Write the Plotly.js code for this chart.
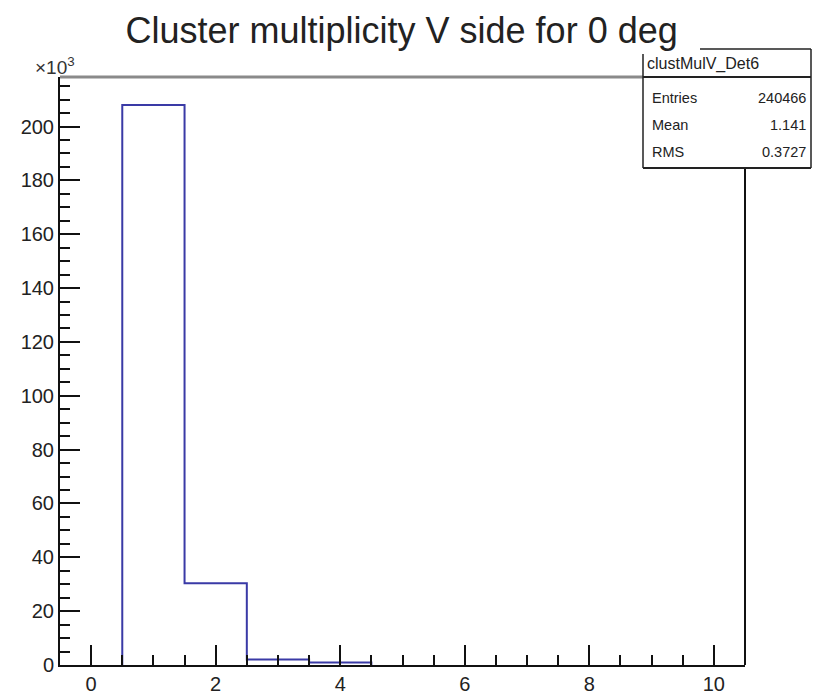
<!DOCTYPE html>
<html>
<head>
<meta charset="utf-8">
<script src="https://cdn.plot.ly/plotly-3.0.1.min.js"></script>
<style>html,body{margin:0;padding:0;background:#fff;}#plot{width:813px;height:694px;}</style>
</head>
<body>
<div id="plot"></div>
<script>
// Histogram: cluster multiplicity, 11 bins from -0.5 to 10.5 (counts in units of 10^3)
const binCenters = [0, 1, 2, 3, 4, 5, 6, 7, 8, 9, 10];
const counts = [0, 208.0, 30.4, 2.0, 0.9, 0, 0, 0, 0, 0, 0];
const binWidth = 1;
const xTickVals = [0, 2, 4, 6, 8, 10];
const yTickVals = [0, 20, 40, 60, 80, 100, 120, 140, 160, 180, 200];
const statLabels = ["Entries", "Mean", "RMS"];
const statValues = ["240466", "1.141", "0.3727"];
const histName = "clustMulV_Det6";
const titleText = "Cluster multiplicity V side for 0 deg";

// build step outline from the non-empty bins
const sx = [], sy = [];
const first = counts.findIndex(c => c > 0);
let last = counts.length - 1;
while (last > first && counts[last] === 0) last--;
sx.push(binCenters[first] - binWidth / 2); sy.push(0);
for (let i = first; i <= last; i++) {
  sx.push(binCenters[i] - binWidth / 2); sy.push(counts[i]);
  sx.push(binCenters[i] + binWidth / 2); sy.push(counts[i]);
}
sx.push(binCenters[last] + binWidth / 2); sy.push(0);

const yMax = Math.max(...counts) * 1.05;

const W = 813, H = 694;
const L = 60, R = 745, T = 77, B = 665;
const px = x => (x - L) / (R - L);
const py = y => (B - y) / (B - T);

const font = "Liberation Sans, Arial, Helvetica, sans-serif";

const trace = {
  x: sx, y: sy, type: "scatter", mode: "lines",
  line: {color: "#3a3aa6", width: 2, shape: "linear"},
  hoverinfo: "skip", showlegend: false
};

const boxL = 643, boxR = 811, boxT = 49, boxB = 168, sep = 77;
const shapes = [
  {type: "line", xref: "paper", yref: "paper", x0: px(L), x1: px(boxL), y0: py(T), y1: py(T), line: {color: "#8a8a8a", width: 3}},
  {type: "line", xref: "paper", yref: "paper", x0: px(R), x1: px(R), y0: py(boxB), y1: py(B), line: {color: "#111", width: 2}},
  {type: "rect", xref: "paper", yref: "paper", x0: px(boxL), x1: px(boxR), y0: py(boxB), y1: py(boxT), line: {width: 0}, fillcolor: "#fff", layer: "above"},
  {type: "line", xref: "paper", yref: "paper", x0: px(boxL), x1: px(boxL), y0: py(boxB), y1: py(54), line: {color: "#222", width: 1.5}, layer: "above"},
  {type: "line", xref: "paper", yref: "paper", x0: px(700), x1: px(boxR), y0: py(boxT), y1: py(boxT), line: {color: "#222", width: 1.5}, layer: "above"},
  {type: "line", xref: "paper", yref: "paper", x0: px(boxR), x1: px(boxR), y0: py(boxB), y1: py(boxT), line: {color: "#222", width: 1.5}, layer: "above"},
  {type: "line", xref: "paper", yref: "paper", x0: px(boxL), x1: px(boxR), y0: py(boxB), y1: py(boxB), line: {color: "#222", width: 2}, layer: "above"},
  {type: "line", xref: "paper", yref: "paper", x0: px(boxL), x1: px(boxR), y0: py(sep), y1: py(sep), line: {color: "#222", width: 2}, layer: "above"}
];

const annotations = [
  {xref: "paper", yref: "paper", x: px(boxL + 2), y: py(64), xanchor: "left", yanchor: "middle", text: histName, showarrow: false, font: {family: font, size: 16, color: "#222"}},
  {xref: "paper", yref: "paper", x: px(33), y: py(66), xanchor: "left", yanchor: "middle", text: "×10<sup>3</sup>", showarrow: false, font: {family: font, size: 19, color: "#333"}}
];
statLabels.forEach((lab, i) => {
  const yy = 98 + i * 27;
  annotations.push({xref: "paper", yref: "paper", x: px(boxL + 7), y: py(yy), xanchor: "left", yanchor: "middle", text: lab, showarrow: false, font: {family: font, size: 14.5, color: "#222"}});
  annotations.push({xref: "paper", yref: "paper", x: px(boxR - 3), y: py(yy), xanchor: "right", yanchor: "middle", text: statValues[i], showarrow: false, font: {family: font, size: 14.5, color: "#222"}});
});

const layout = {
  width: W, height: H,
  margin: {l: L, r: W - R, t: T, b: H - B, pad: 0},
  paper_bgcolor: "#fff", plot_bgcolor: "#fff",
  title: {text: titleText, font: {family: font, size: 36, color: "#222"}, x: 0.494, xanchor: "center", y: 1 - 30 / H, yanchor: "middle"},
  xaxis: {
    range: [-0.5, 10.5], tickvals: xTickVals, ticks: "inside", ticklen: 20, tickwidth: 2, tickcolor: "#111",
    minor: {dtick: 0.5, tick0: 0, ticks: "inside", ticklen: 10, tickwidth: 2, tickcolor: "#111", showgrid: false},
    showgrid: false, zeroline: false, showline: true, linecolor: "#111", linewidth: 2,
    tickfont: {family: font, size: 20, color: "#222"}, fixedrange: true
  },
  yaxis: {
    range: [0, yMax], tickvals: yTickVals, ticks: "inside", ticklen: 20, tickwidth: 2, tickcolor: "#111",
    minor: {dtick: 5, tick0: 0, ticks: "inside", ticklen: 10, tickwidth: 2, tickcolor: "#111", showgrid: false},
    showgrid: false, zeroline: false, showline: true, linecolor: "#111", linewidth: 2,
    tickfont: {family: font, size: 20, color: "#222"}, fixedrange: true
  },
  shapes: shapes,
  annotations: annotations,
  showlegend: false
};

Plotly.newPlot("plot", [trace], layout, {displayModeBar: false, staticPlot: true});
</script>
</body>
</html>
